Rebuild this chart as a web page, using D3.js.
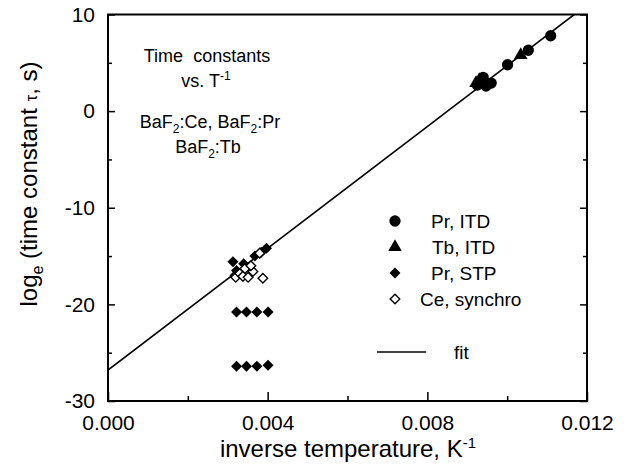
<!DOCTYPE html>
<html>
<head>
<meta charset="utf-8">
<script src="https://cdn.jsdelivr.net/npm/d3@7"></script>
<style>
  body { margin: 0; background: #fff; }
  text { font-family: "Liberation Sans", Arial, sans-serif; fill: #000; }
</style>
</head>
<body>
<div class="chart"></div>
<script>
// data
var prITD = [[0.00925, 2.7], [0.0094, 3.5], [0.00947, 2.6], [0.0096, 2.9], [0.01001, 4.8], [0.01053, 6.3], [0.01109, 7.8]];
var tbITD = [[0.00922, 2.9], [0.0093, 3.2], [0.01034, 5.8]];
var prSTP = [
  [0.00322, -20.8], [0.00347, -20.8], [0.00373, -20.8], [0.00401, -20.8],
  [0.00322, -26.4], [0.00347, -26.4], [0.00373, -26.4], [0.00401, -26.3],
  [0.00313, -15.6], [0.0034, -15.8], [0.00322, -16.5], [0.00318, -17.0],
  [0.00368, -15.0], [0.00384, -14.6], [0.00397, -14.2]
];
var ceSynchro = [[0.0032, -17.2], [0.0033, -16.8], [0.00343, -16.3], [0.00338, -17.1], [0.00351, -17.2],
  [0.00363, -16.6], [0.00388, -17.3], [0.0038, -14.7], [0.00358, -16.0]];
var fitLine = [[0.0, -26.8], [0.01168, 10.0]];

var xTicks = [0, 0.004, 0.008, 0.012];
var xMinor = [0.002, 0.006, 0.010];
var yTicks = [10, 0, -10, -20, -30];
var yMinor = [5, -5, -15, -25];

var svgWidth = 629, svgHeight = 464;
var margin = { top: 14.5, right: 42, bottom: 63, left: 108 };
var width = svgWidth - margin.left - margin.right;
var height = svgHeight - margin.top - margin.bottom;

var svg = d3.select(".chart").append("svg")
  .attr("width", svgWidth)
  .attr("height", svgHeight);

var chartGroup = svg.append("g")
  .attr("transform", `translate(${margin.left}, ${margin.top})`);

var x = d3.scaleLinear().domain([0, 0.012]).range([0, width]);
var y = d3.scaleLinear().domain([-30, 10]).range([height, 0]);

chartGroup.append("clipPath").attr("id", "clip")
  .append("rect").attr("width", width).attr("height", height);

// fit line
chartGroup.append("path")
  .datum(fitLine)
  .attr("clip-path", "url(#clip)")
  .attr("d", d3.line().x(d => x(d[0])).y(d => y(d[1])))
  .attr("fill", "none").attr("stroke", "#000").attr("stroke-width", 1.6);

// axes (ticks pointing inward)
var bottomAxis = d3.axisBottom(x).tickValues(xTicks).tickSize(-9).tickPadding(14)
  .tickFormat(d3.format(".3f"));
var bottomMinor = d3.axisBottom(x).tickValues(xMinor).tickSize(-5).tickFormat("");
var leftAxis = d3.axisLeft(y).tickValues(yTicks).tickSize(-7).tickPadding(13).tickFormat(d => String(d));
var leftMinor = d3.axisLeft(y).tickValues(yMinor).tickSize(-4).tickFormat("");
var rightAxis = d3.axisRight(y).tickValues(yTicks).tickSize(-7).tickFormat("");
var rightMinor = d3.axisRight(y).tickValues(yMinor).tickSize(-4).tickFormat("");

function styleAxis(g) {
  g.select(".domain").remove();
  g.selectAll(".tick line").attr("stroke", "#000").attr("stroke-width", 1.5);
  g.selectAll(".tick text").attr("font-size", "21px")
    .style("font-family", "'Liberation Sans', Arial, sans-serif");
}

chartGroup.append("g").attr("transform", `translate(0, ${height})`).call(bottomAxis).call(styleAxis);
chartGroup.append("g").attr("transform", `translate(0, ${height})`).call(bottomMinor).call(styleAxis);
chartGroup.append("g").call(leftAxis).call(styleAxis);
chartGroup.append("g").call(leftMinor).call(styleAxis);
chartGroup.append("g").attr("transform", `translate(${width}, 0)`).call(rightAxis).call(styleAxis);
chartGroup.append("g").attr("transform", `translate(${width}, 0)`).call(rightMinor).call(styleAxis);

chartGroup.append("rect")
  .attr("width", width).attr("height", height)
  .attr("fill", "none").attr("stroke", "#000").attr("stroke-width", 2);

// markers
var circleSym = d3.symbol().type(d3.symbolCircle).size(100);
var triSym = d3.symbol().type(d3.symbolTriangle).size(80);
// square turned 45 degrees, as in the picture
function diamond(r) { return `M0,${-r}L${r},0L0,${r}L${-r},0Z`; }
var diaSym = diamond(5.5);
var openDiaSym = diamond(4.8);

chartGroup.selectAll(".pritd").data(prITD).enter().append("path")
  .attr("transform", d => `translate(${x(d[0])}, ${y(d[1])})`)
  .attr("d", circleSym).attr("fill", "#000");

chartGroup.selectAll(".tbitd").data(tbITD).enter().append("path")
  .attr("transform", d => `translate(${x(d[0])}, ${y(d[1])})`)
  .attr("d", triSym).attr("fill", "#000");

chartGroup.selectAll(".prstp").data(prSTP).enter().append("path")
  .attr("transform", d => `translate(${x(d[0])}, ${y(d[1])})`)
  .attr("d", diaSym).attr("fill", "#000");

chartGroup.selectAll(".ce").data(ceSynchro).enter().append("path")
  .attr("transform", d => `translate(${x(d[0])}, ${y(d[1])})`)
  .attr("d", openDiaSym).attr("fill", "#fff").attr("stroke", "#000").attr("stroke-width", 1.4);

// legend
var legend = svg.append("g");
var legendRows = [
  { sym: circleSym, fill: "#000", label: "Pr, ITD", y: 221, tx: 431 },
  { sym: triSym, fill: "#000", label: "Tb, ITD", y: 247, tx: 432 },
  { sym: diaSym, fill: "#000", label: "Pr, STP", y: 273, tx: 431 },
  { sym: openDiaSym, fill: "#fff", label: "Ce, synchro", y: 299, tx: 420 }
];
legendRows.forEach(function(r) {
  legend.append("path").attr("transform", `translate(395, ${r.y})`).attr("d", r.sym)
    .attr("fill", r.fill).attr("stroke", r.fill === "#fff" ? "#000" : "none").attr("stroke-width", 1.4);
  legend.append("text").attr("x", r.tx).attr("y", r.y + 6.5).attr("font-size", "19px").text(r.label);
});
legend.append("line").attr("x1", 377).attr("x2", 426).attr("y1", 352).attr("y2", 352)
  .attr("stroke", "#000").attr("stroke-width", 1.6);
legend.append("text").attr("x", 454).attr("y", 358.5).attr("font-size", "19px").text("fit");

// annotation
var note = svg.append("g").attr("text-anchor", "middle").attr("font-size", "18px");
note.append("text").attr("x", 207).attr("y", 62).attr("xml:space", "preserve").text("Time  constants");
var vs = note.append("text").attr("x", 206).attr("y", 87);
vs.append("tspan").text("vs. T");
vs.append("tspan").attr("dy", -7).attr("font-size", "12px").text("-1");
var baf = note.append("text").attr("x", 210).attr("y", 128);
baf.append("tspan").text("BaF");
baf.append("tspan").attr("dy", 5).attr("font-size", "12px").text("2");
baf.append("tspan").attr("dy", -5).text(":Ce, BaF");
baf.append("tspan").attr("dy", 5).attr("font-size", "12px").text("2");
baf.append("tspan").attr("dy", -5).text(":Pr");
var tb = note.append("text").attr("x", 208).attr("y", 153);
tb.append("tspan").text("BaF");
tb.append("tspan").attr("dy", 5).attr("font-size", "12px").text("2");
tb.append("tspan").attr("dy", -5).text(":Tb");

// axis labels
var xl = svg.append("text").attr("x", 348).attr("y", 457).attr("text-anchor", "middle").attr("font-size", "24px");
xl.append("tspan").text("inverse temperature, K");
xl.append("tspan").attr("dy", -9).attr("font-size", "15px").text("-1");

var yl = svg.append("text").attr("transform", "translate(37, 184) rotate(-90)")
  .attr("text-anchor", "middle").attr("font-size", "24px");
yl.append("tspan").text("log");
yl.append("tspan").attr("dy", 6).attr("font-size", "16px").text("e");
yl.append("tspan").attr("dy", -6).text(" (time constant ");
yl.append("tspan").attr("font-size", "17px").text("τ");
yl.append("tspan").text(", s)");
</script>
</body>
</html>
